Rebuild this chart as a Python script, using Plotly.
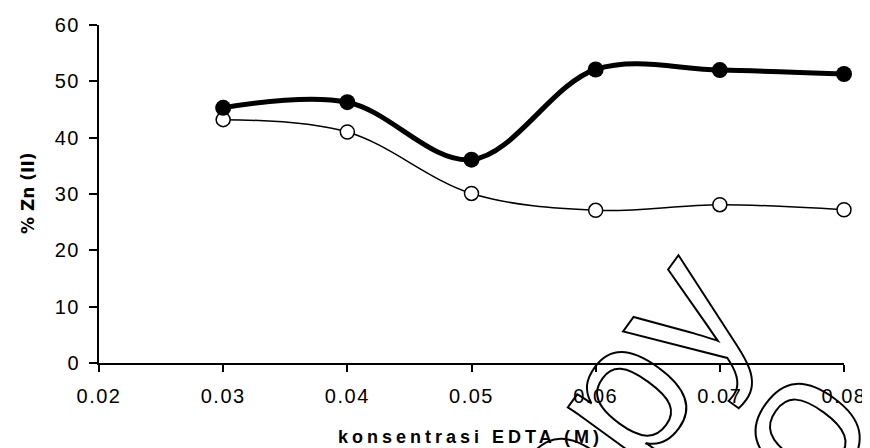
import plotly.graph_objects as go

# Data
edta_conc = [0.03, 0.04, 0.05, 0.06, 0.07, 0.08]
zn_filled = [45.3, 46.3, 36.1, 52.1, 52.0, 51.3]
zn_open = [43.2, 41.0, 30.1, 27.1, 28.1, 27.2]
x_ticks = [0.02, 0.03, 0.04, 0.05, 0.06, 0.07, 0.08]
x_ticktext = ["0.02", "0.03", "0.04", "0.05", "0.06", "0.07", "0.08"]
y_ticks = [0, 10, 20, 30, 40, 50, 60]

# page body has an 8px margin; size the figure to fill the window
OFF = 8
W, H = 870 - OFF, 448 - OFF
PL, PR, PT, PB = 99, 844, 25, 363  # plot area in page pixels
L, T = PL - OFF, PT - OFF
R, B = 870 - PR, 448 - PB


def px(xp):
    return (xp - PL) / (PR - PL)


def py(yp):
    return (PB - yp) / (PB - PT)


fig = go.Figure()
fig.add_trace(go.Scatter(
    x=edta_conc, y=zn_open, mode="lines+markers",
    line=dict(color="black", width=1.5, shape="spline"),
    marker=dict(symbol="circle", size=14, color="white",
                line=dict(color="black", width=1.5)),
    showlegend=False, cliponaxis=False))
fig.add_trace(go.Scatter(
    x=edta_conc, y=zn_filled, mode="lines+markers",
    line=dict(color="black", width=5, shape="spline"),
    marker=dict(symbol="circle", size=16, color="black"),
    showlegend=False, cliponaxis=False))

tickfont = dict(family="Liberation Sans", size=20, color="black")
fig.update_xaxes(range=[0.02, 0.08], tickvals=x_ticks, ticktext=x_ticktext,
                 showgrid=False, zeroline=False, showline=True,
                 linecolor="black", linewidth=2, ticks="outside", ticklen=7,
                 tickwidth=2, tickcolor="black", tickfont=tickfont,
                 automargin=False, ticklabelstandoff=7)
fig.update_yaxes(range=[0, 60], tickvals=y_ticks, showgrid=False,
                 zeroline=False, showline=True, linecolor="black",
                 linewidth=2, ticks="outside", ticklen=8, tickwidth=2,
                 tickcolor="black", tickfont=tickfont, automargin=False,
                 ticklabelstandoff=5)

annotations = [
    dict(text="konsentrasi EDTA (M)", x=px(470), y=py(437), xref="paper",
         yref="paper", showarrow=False,
         font=dict(family="Liberation Sans", size=18, color="black",
                   weight="bold"),
         xanchor="center", yanchor="middle"),
    dict(text="% Zn (II)", x=px(28), y=py(193), xref="paper", yref="paper",
         showarrow=False, textangle=-90,
         font=dict(family="DejaVu Sans", size=17, color="black", weight="bold"),
         xanchor="center", yanchor="middle"),
    dict(text="copy", x=px(588), y=py(438), xref="paper", yref="paper",
         showarrow=False, textangle=-54,
         font=dict(family="Liberation Sans", size=190, color="black"),
         xanchor="center", yanchor="middle"),
    dict(text="o", x=px(795), y=py(425), xref="paper", yref="paper",
         showarrow=False, textangle=-54,
         font=dict(family="Liberation Sans", size=190, color="black"),
         xanchor="center", yanchor="middle"),
]

fig.update_layout(width=W, height=H, margin=dict(l=L, r=R, t=T, b=B),
                  paper_bgcolor="white", plot_bgcolor="white",
                  annotations=annotations)

post = """
var gd = document.getElementById('{plot_id}');
function restyleText(){
  gd.querySelectorAll('.annotation-text').forEach(function(t){
    var s = t.textContent;
    if (s === 'copy' || s === 'o') {
      t.style.fill = 'none';
      t.style.stroke = '#000';
      t.style.strokeWidth = '2px';
    } else if (s === 'konsentrasi EDTA (M)') {
      t.style.letterSpacing = '4px';
    }
  });
  gd.querySelectorAll('.xtick text, .ytick text').forEach(function(t){
    t.style.letterSpacing = '1.5px';
  });
}
restyleText();
gd.on('plotly_afterplot', restyleText);
"""

fig.write_html("out.html", post_script=post)
